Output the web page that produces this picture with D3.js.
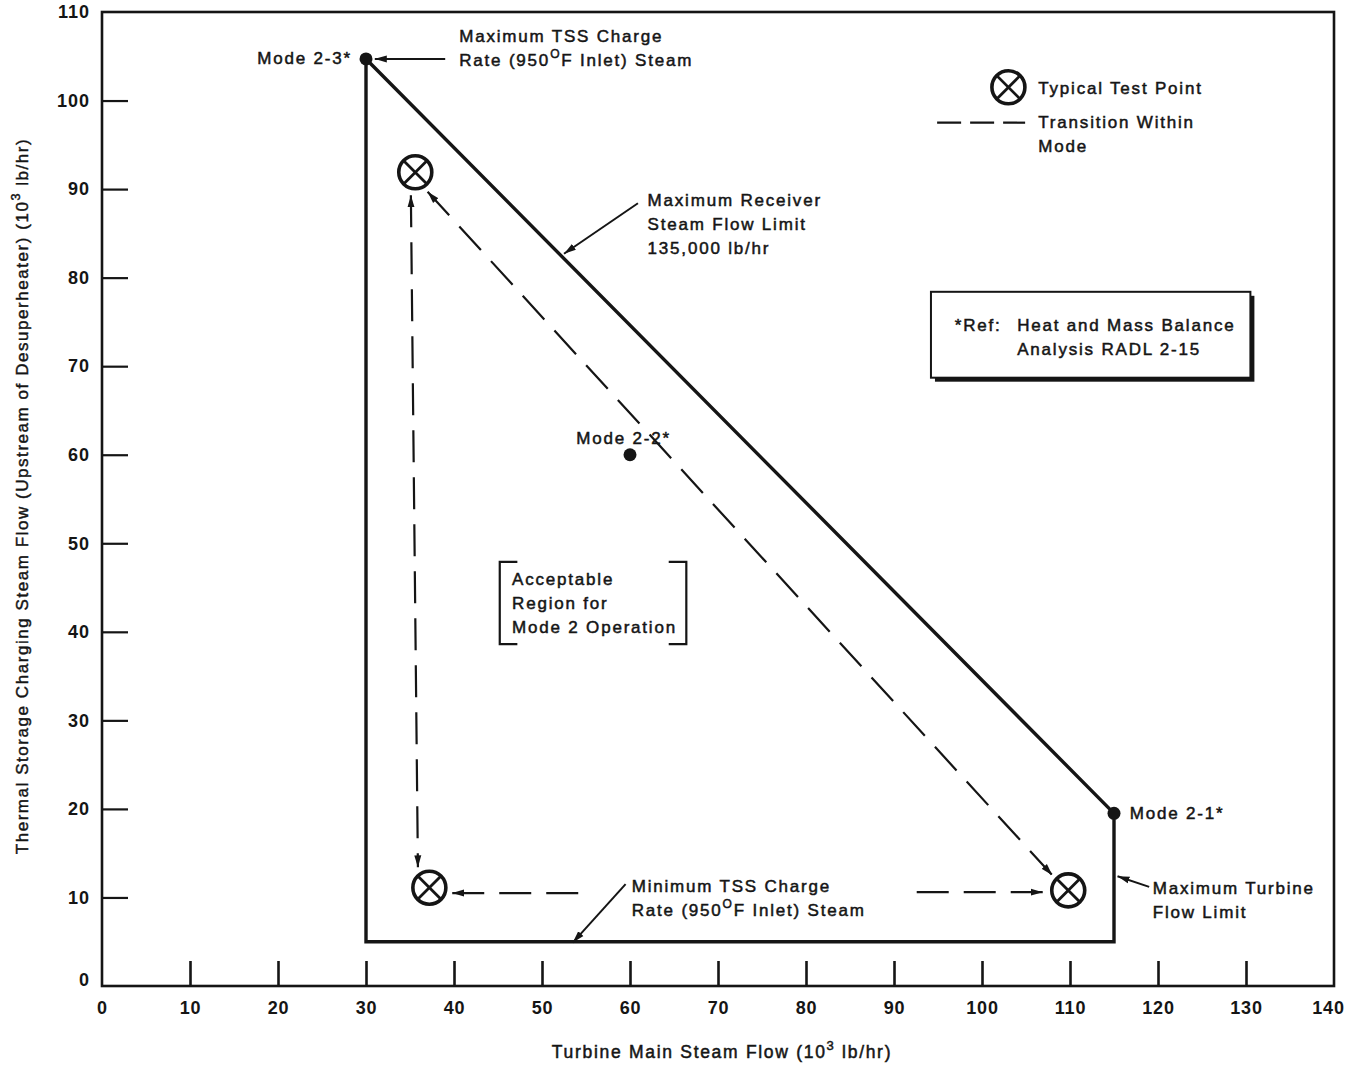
<!DOCTYPE html>
<html><head><meta charset="utf-8">
<script src="https://cdn.jsdelivr.net/npm/d3@7"></script>
<style>
body{margin:0;background:#fff}
svg{display:block}
text{font-family:"Liberation Sans",Arial,Helvetica,sans-serif;fill:#151515}
</style>
</head><body><svg id="c" width="1349" height="1068"></svg>
<script>
// ---------- data ----------
const xTickValues = [0,10,20,30,40,50,60,70,80,90,100,110,120,130,140];
const yTickValues = [0,10,20,30,40,50,60,70,80,90,100,110];
const regionBoundary = [[30,104.7],[30,5],[115,5],[115,19.5]];
const modePoints = [
  {label:"Mode 2-3*", x:30,  y:104.7},
  {label:"Mode 2-2*", x:60,  y:60},
  {label:"Mode 2-1*", x:115, y:19.5}
];
const testPoints = [[35.6,91.9],[37.2,11.1],[109.8,10.8]];
const transitions = [
  {pts:[[35.1,89.3],[35.9,13.4]], start:true, end:true},
  {pts:[[37.0,89.7],[108.0,12.5]], start:true, end:true},
  {pts:[[39.8,10.5],[54.3,10.5]], start:true, end:false},
  {pts:[[106.9,10.6],[92.3,10.6]], start:true, end:false}
];
const xTitle = "Turbine Main Steam Flow (10|3| lb/hr)";
const yTitle = "Thermal Storage Charging Steam Flow (Upstream of Desuperheater) (10|3| lb/hr)";

// ---------- setup ----------
const svg = d3.select("#c");
const x = d3.scaleLinear().domain([0,140]).range([102,1334]);
const y = d3.scaleLinear().domain([0,110]).range([986,12]);
const INK = "#151515";

const defs = svg.append("defs");
defs.append("marker").attr("id","arr")
  .attr("viewBox","0 0 12 8").attr("refX",12).attr("refY",4)
  .attr("markerWidth",12).attr("markerHeight",8)
  .attr("markerUnits","userSpaceOnUse").attr("orient","auto-start-reverse")
  .append("path").attr("d","M0,0.5 L12,4 L0,7.5 Z").attr("fill",INK);

function richText(sel, str, supSize, supDy){
  const parts = str.split("|");
  parts.forEach((p,i)=>{
    if(i%2===1){
      sel.append("tspan").attr("font-size",supSize).attr("dy",supDy).text(p);
    } else {
      const t = sel.append("tspan").text(p);
      if(i>0) t.attr("dy",-supDy);
    }
  });
}

// ---------- frame & axes ----------
const xAxis = d3.axisBottom(x).tickValues(xTickValues).tickSizeInner(-25).tickSizeOuter(0).tickPadding(15);
const gx = svg.append("g").attr("transform",`translate(0,${y(0)})`).call(xAxis);
gx.select(".domain").remove();
gx.selectAll(".tick line").attr("stroke",INK).attr("stroke-width",2.6);
gx.selectAll(".tick line").filter(d=>d===0||d===140).remove();
gx.selectAll(".tick text").attr("font-size",18).attr("font-weight","bold")
  .attr("letter-spacing","0.8px")
  .attr("font-family","Liberation Sans, Arial, sans-serif").attr("fill",INK);
gx.selectAll(".tick").filter(d=>d===140).select("text").attr("dx","-6");

const yAxis = d3.axisLeft(y).tickValues(yTickValues).tickSizeInner(-26).tickSizeOuter(0).tickPadding(12);
const gy = svg.append("g").attr("transform",`translate(${x(0)},0)`).call(yAxis);
gy.select(".domain").remove();
gy.selectAll(".tick line").attr("stroke",INK).attr("stroke-width",2.2)
  .filter(d=>d===0||d===110).remove();
gy.selectAll(".tick text").attr("font-size",18).attr("font-weight","bold")
  .attr("letter-spacing","1px")
  .attr("font-family","Liberation Sans, Arial, sans-serif").attr("fill",INK);
gy.selectAll(".tick").filter(d=>d===0).select("text").attr("dy","-0.05em");

svg.append("rect").attr("x",x(0)).attr("y",y(110))
  .attr("width",x(140)-x(0)).attr("height",y(0)-y(110))
  .attr("fill","none").attr("stroke",INK).attr("stroke-width",2.6);

// axis titles
const xt = svg.append("text").attr("x",722).attr("y",1058).attr("text-anchor","middle")
  .attr("font-size",17.5).attr("stroke",INK).attr("stroke-width",0.5).attr("letter-spacing","1.7px");
richText(xt, xTitle, 13, -8);
const yt = svg.append("text").attr("transform","translate(28,496) rotate(-90)")
  .attr("text-anchor","middle").attr("font-size",17).attr("stroke",INK).attr("stroke-width",0.45)
  .attr("letter-spacing","1.55px");
richText(yt, yTitle, 12.5, -8);

// ---------- region ----------
svg.append("path")
  .attr("d", d3.line().x(d=>x(d[0])).y(d=>y(d[1])).curve(d3.curveLinearClosed)(regionBoundary))
  .attr("fill","none").attr("stroke",INK).attr("stroke-width",3.4).attr("stroke-linejoin","miter");

// ---------- transitions ----------
svg.selectAll(".tr").data(transitions).join("path").attr("class","tr")
  .attr("d", d=>d3.line().x(p=>x(p[0])).y(p=>y(p[1]))(d.pts))
  .attr("fill","none").attr("stroke",INK).attr("stroke-width",2.2)
  .attr("stroke-dasharray","32,15")
  .attr("marker-start", d=>d.start?"url(#arr)":null)
  .attr("marker-end", d=>d.end?"url(#arr)":null);

// ---------- test points ----------
function testSymbol(g, cx, cy, r){
  g.append("circle").attr("cx",cx).attr("cy",cy).attr("r",r)
    .attr("fill","#fff").attr("stroke",INK).attr("stroke-width",3.6);
  const k = r*0.72;
  g.append("line").attr("x1",cx-k).attr("y1",cy-k).attr("x2",cx+k).attr("y2",cy+k)
    .attr("stroke",INK).attr("stroke-width",2.8);
  g.append("line").attr("x1",cx-k).attr("y1",cy+k).attr("x2",cx+k).attr("y2",cy-k)
    .attr("stroke",INK).attr("stroke-width",2.8);
}
const gtp = svg.append("g");
testPoints.forEach(p=>testSymbol(gtp, x(p[0]), y(p[1]), 16.5));

// ---------- mode points ----------
svg.selectAll(".mp").data(modePoints).join("circle").attr("class","mp")
  .attr("cx",d=>x(d.x)).attr("cy",d=>y(d.y)).attr("r",6.5).attr("fill",INK);

// ---------- annotations ----------
const FS = 17;
function label(lines, dx, dy, anchor){
  const t = svg.append("text").attr("x",x(dx)).attr("y",y(dy))
    .attr("font-size",FS).attr("text-anchor",anchor||"start")
    .attr("stroke",INK).attr("stroke-width",0.5).attr("letter-spacing","1.8px");
  lines.forEach((ln,i)=>{
    const ts = t.append("tspan").attr("x",x(dx)).attr("dy", i===0?0:24);
    if(ln.includes("|")){
      const parts = ln.split("|");
      ts.text(parts[0]);
      t.append("tspan").attr("font-size",12).attr("dy",-8).text(parts[1]);
      t.append("tspan").attr("dy",8).text(parts[2]);
    } else ts.text(ln);
  });
  return t;
}
function arrow(a,b){
  svg.append("line").attr("x1",x(a[0])).attr("y1",y(a[1])).attr("x2",x(b[0])).attr("y2",y(b[1]))
    .attr("stroke",INK).attr("stroke-width",2).attr("marker-end","url(#arr)");
}

label(["Mode 2-3*"], 28.4, 104.1, "end");
label(["Maximum TSS Charge","Rate (950|O|F Inlet) Steam"], 40.6, 106.6);
arrow([39.0,104.7],[31.0,104.7]);

label(["Maximum Receiver","Steam Flow Limit","135,000 lb/hr"], 62.0, 88.1);
arrow([60.9,88.4],[52.5,82.7]);

label(["Mode 2-2*"], 53.9, 61.2);

label(["Acceptable","Region for","Mode 2 Operation"], 46.6, 45.3);
const bx0 = 45.2, bx1 = 66.4, by0 = 47.9, by1 = 38.6, bw = 2.0;
svg.append("path").attr("d",
  `M${x(bx0+bw)},${y(by0)}H${x(bx0)}V${y(by1)}H${x(bx0+bw)}` +
  `M${x(bx1-bw)},${y(by0)}H${x(bx1)}V${y(by1)}H${x(bx1-bw)}`)
  .attr("fill","none").attr("stroke",INK).attr("stroke-width",2.2);

label(["Minimum TSS Charge","Rate (950|O|F Inlet) Steam"], 60.2, 10.6);
arrow([59.5,11.5],[53.5,4.9]);

label(["Mode 2-1*"], 116.8, 18.9);
label(["Maximum Turbine","Flow Limit"], 119.4, 10.4);
arrow([119.0,11.2],[115.4,12.4]);

// ---------- legend ----------
testSymbol(svg.append("g"), x(103.0), y(101.5), 16.5);
label(["Typical Test Point"], 106.4, 100.7);
svg.append("line").attr("x1",x(94.9)).attr("x2",x(104.9)).attr("y1",y(97.5)).attr("y2",y(97.5))
  .attr("stroke",INK).attr("stroke-width",2.2).attr("stroke-dasharray","24,9");
label(["Transition Within","Mode"], 106.4, 96.9);

// ---------- reference box ----------
const rb = {x0:94.2, x1:130.5, y0:78.4, y1:68.7};
svg.append("rect").attr("x",x(rb.x0)+4).attr("y",y(rb.y0)+4)
  .attr("width",x(rb.x1)-x(rb.x0)).attr("height",y(rb.y1)-y(rb.y0)).attr("fill",INK);
svg.append("rect").attr("x",x(rb.x0)).attr("y",y(rb.y0))
  .attr("width",x(rb.x1)-x(rb.x0)).attr("height",y(rb.y1)-y(rb.y0))
  .attr("fill","#fff").attr("stroke",INK).attr("stroke-width",2);
label(["*Ref:"], 96.9, 74.0);
label(["Heat and Mass Balance","Analysis RADL 2-15"], 104.0, 74.0);
</script></body></html>
